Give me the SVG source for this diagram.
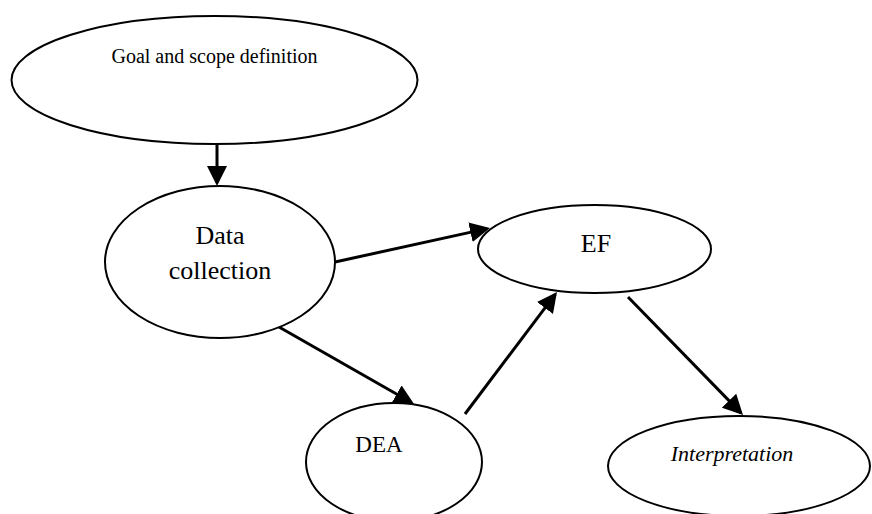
<svg xmlns="http://www.w3.org/2000/svg" width="872" height="514" viewBox="0 0 872 514">
<style>
.node ellipse{fill:#fff;stroke:#000;stroke-width:2}
.node text{font-family:"Liberation Serif","Times New Roman",serif;fill:#000;text-anchor:middle}
.edge{stroke:#000;stroke-width:3;fill:none;marker-end:url(#ah)}
</style>
<defs>
<marker id="ah" viewBox="0 0 20 20" markerWidth="20" markerHeight="20" markerUnits="userSpaceOnUse" refX="17" refY="10" orient="auto">
<path d="M0,0 L20,10 L0,20 z" fill="#000"/>
</marker>
</defs>
<rect width="872" height="514" fill="#fff"/>
<g id="connectors">
<line class="edge" x1="217" y1="144" x2="217" y2="183"/>
<line class="edge" x1="335" y1="262" x2="487.1" y2="228.6"/>
<line class="edge" x1="272" y1="323" x2="411.4" y2="402.5"/>
<line class="edge" x1="465" y1="414" x2="555.2" y2="294.4"/>
<line class="edge" x1="628" y1="297" x2="740.9" y2="412.9"/>
</g>
<g id="goal" class="node">
<ellipse cx="214.5" cy="80" rx="203" ry="64"/>
<text x="214.5" y="63" font-size="20">Goal and scope definition</text>
</g>
<g id="data" class="node">
<ellipse cx="220" cy="262" rx="115" ry="76"/>
<text x="220" y="244" font-size="26">Data</text>
<text x="220" y="279" font-size="26">collection</text>
</g>
<g id="ef" class="node">
<ellipse cx="594.5" cy="249" rx="116.5" ry="44"/>
<text x="596" y="252" font-size="26">EF</text>
</g>
<g id="dea" class="node">
<ellipse cx="394" cy="462" rx="88" ry="59"/>
<text x="379" y="452" font-size="23">DEA</text>
</g>
<g id="interp" class="node">
<ellipse cx="739" cy="466" rx="131" ry="50"/>
<text x="732" y="461" font-size="22" font-style="italic">Interpretation</text>
</g>
</svg>
